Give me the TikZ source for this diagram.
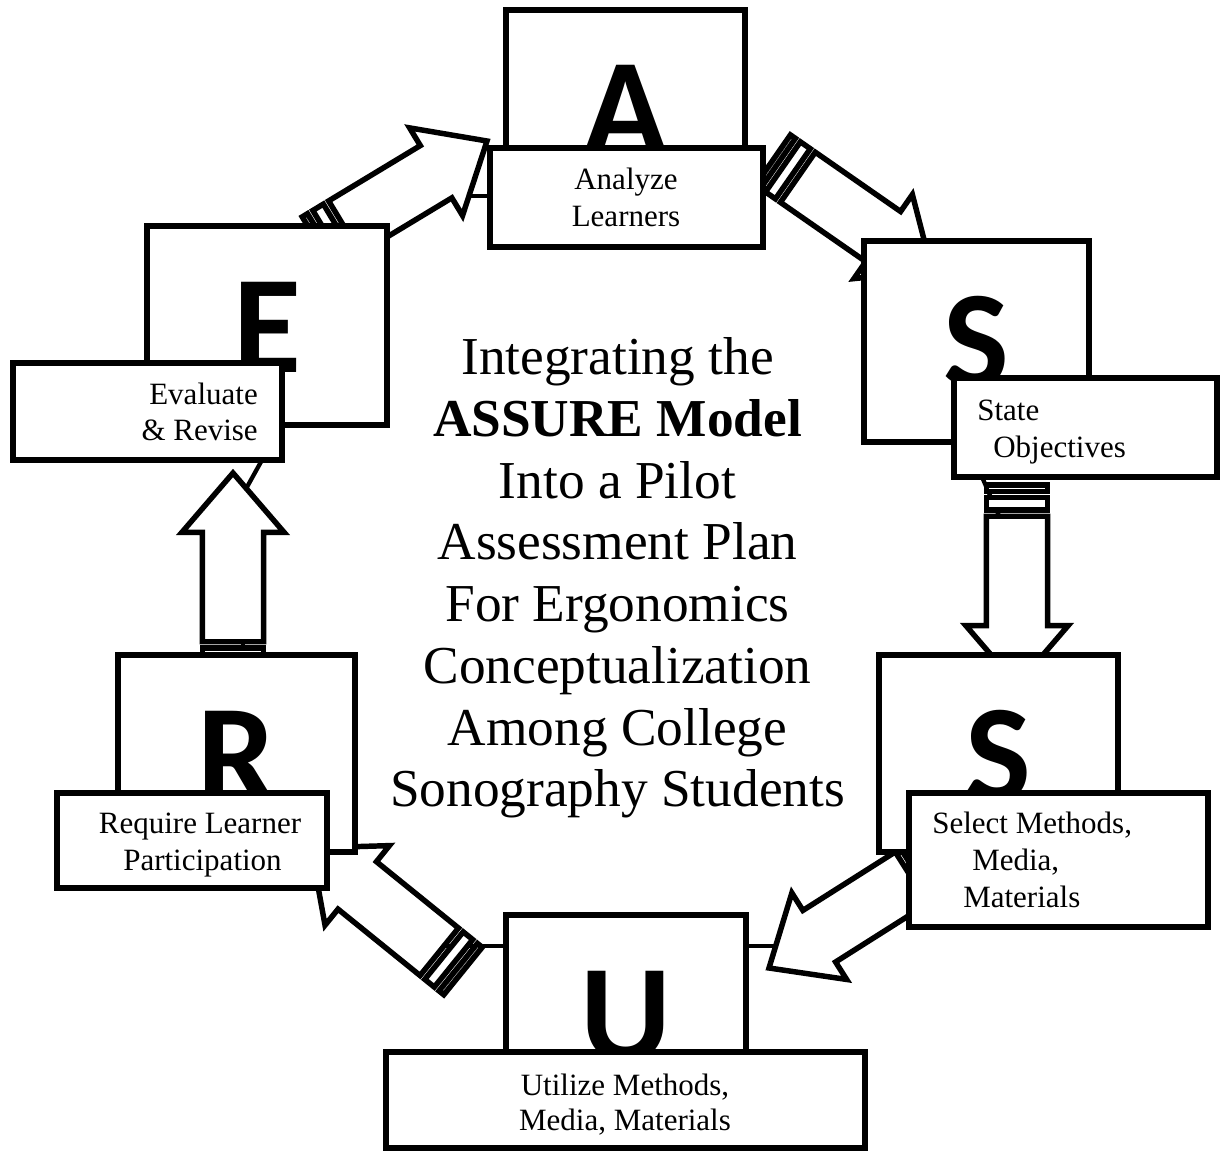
\documentclass[tikz,border=0pt]{standalone}
\usepackage{fontspec}
\setmainfont{Liberation Serif}
\newfontfamily\letterfont{Carlito}
\usetikzlibrary{calc,fit}
\tikzset{
  arrowline/.style={draw=black, line width=4.1pt, fill=white, line join=miter},
  conn/.style={draw=black, line width=3.2pt},
  bigbox/.style={draw=black, line width=4.1pt, fill=white, inner sep=0pt, outer sep=0pt},
  labbox/.style={draw=black, line width=4.1pt, fill=white, inner sep=0pt, outer sep=0pt},
  letter/.style={font=\letterfont\bfseries\fontsize{104.4pt}{104.4pt}\selectfont, inner sep=0pt, anchor=base},
  labtext/.style={font=\fontsize{23.25pt}{27.75pt}\selectfont, inner sep=0pt},
  titletext/.style={font=\fontsize{40pt}{46.3pt}\selectfont, align=center, inner sep=0pt}
}
% striped block arrow from tail #1 to tip #2
\newcommand\stripedarrow[2]{%
 \draw[arrowline] ($(#1)!22.9pt!90:(#2)$) -- ($(#1)!22.9pt!-90:(#2)$) -- ($(#1)!0.03125!(#2)!22.9pt!-90:(#2)$) -- ($(#1)!0.03125!(#2)!22.9pt!90:(#2)$) -- cycle;
 \draw[arrowline] ($(#1)!0.0625!(#2)!22.9pt!90:(#2)$) -- ($(#1)!0.0625!(#2)!22.9pt!-90:(#2)$) -- ($(#1)!0.125!(#2)!22.9pt!-90:(#2)$) -- ($(#1)!0.125!(#2)!22.9pt!90:(#2)$) -- cycle;
 \draw[arrowline] ($(#1)!0.15625!(#2)!22.9pt!90:(#2)$) -- ($(#2)!44.6pt!(#1)!22.9pt!-90:(#1)$) -- ($(#2)!44.6pt!(#1)!38.4pt!-90:(#1)$) -- (#2) -- ($(#2)!44.6pt!(#1)!38.4pt!90:(#1)$) -- ($(#2)!44.6pt!(#1)!22.9pt!90:(#1)$) -- ($(#1)!0.15625!(#2)!22.9pt!-90:(#2)$) -- cycle;
}
\begin{document}
\begin{tikzpicture}[x=0.75pt, y=-0.75pt]
\useasboundingbox (0,0) rectangle (1221,1152);
\fill[white] (0,0) rectangle (1221,1152);

% arrow end points
\coordinate (eaT) at (318,243);  \coordinate (eaH) at (487,141);
\coordinate (asT) at (773,160);  \coordinate (asH) at (932,270.5);
\coordinate (ssT) at (1017,485); \coordinate (ssH) at (1017,685);
\coordinate (suT) at (938,861);  \coordinate (suH) at (769,968);
\coordinate (urT) at (463,971);  \coordinate (urH) at (311,848);
\coordinate (reT) at (233,673);  \coordinate (reH) at (233,473);

% connector stubs (behind arrows)
\coordinate (a1) at (490,196);  \coordinate (a2) at (445,196);
\coordinate (u1) at (506,946);  \coordinate (u2) at (430,946);
\coordinate (u3) at (746,946);  \coordinate (u4) at (800,946);
\coordinate (e1) at (262,460);  \coordinate (e2) at (237,505);
\coordinate (s1) at (982,477);  \coordinate (s2) at (1003,525);
\coordinate (r1) at (243,655);  \coordinate (r2) at (243,610);
\draw[conn] (a1) -- (a2);
\draw[conn] (u1) -- (u2);
\draw[conn] (u3) -- (u4);
\draw[conn] (e1) -- (e2);
\draw[conn] (s1) -- (s2);
\draw[conn] (r1) -- (r2);

% arrows
\stripedarrow{eaT}{eaH}
\stripedarrow{asT}{asH}
\stripedarrow{ssT}{ssH}
\stripedarrow{suT}{suH}
\stripedarrow{urT}{urH}
\stripedarrow{reT}{reH}

% A
\node[bigbox, fit={(506,10) (745,200)}] (Abig) {};
\node[letter] (Alet) at (626,156) {A};
\node[labbox, fit={(490,148) (763,247)}] (Alab) {};
\node[labtext, anchor=base] (At1) at (626,190) {Analyze};
\node[labtext, anchor=base] (At2) at (626,227) {Learners};

% S (state)
\node[bigbox, fit={(864,241) (1089,442)}] (S1big) {};
\node[letter] (S1let) at (976.5,387) {S};
\node[labbox, fit={(954,378) (1217,477)}] (S1lab) {};
\node[labtext, anchor=base west] (S1t1) at (977,420) {State};
\node[labtext, anchor=base west] (S1t2) at (993,457) {Objectives};

% S (select)
\node[bigbox, fit={(879,655) (1118,852)}] (S2big) {};
\node[letter] (S2let) at (998.5,801) {S};
\node[labbox, fit={(909,793) (1208,927)}] (S2lab) {};
\node[labtext, anchor=base west] (S2t1) at (932,833) {Select Methods,};
\node[labtext, anchor=base west] (S2t2) at (972,870) {Media,};
\node[labtext, anchor=base west] (S2t3) at (963,907) {Materials};

% U
\node[bigbox, fit={(506,915) (746,1100)}] (Ubig) {};
\node[letter] (Ulet) at (626,1061) {U};
\node[labbox, fit={(386,1052) (865,1148)}] (Ulab) {};
\node[labtext, anchor=base] (Ut1) at (625,1095) {Utilize Methods,};
\node[labtext, anchor=base] (Ut2) at (625,1130) {Media, Materials};

% R
\node[bigbox, fit={(118,655) (355,852)}] (Rbig) {};
\node[letter] (Rlet) at (236.5,801) {R};
\node[labbox, fit={(57,793) (327,888)}] (Rlab) {};
\node[labtext, anchor=base] (Rt1) at (200,833) {Require Learner};
\node[labtext, anchor=base] (Rt2) at (202.5,870) {Participation};

% E
\node[bigbox, fit={(147,226) (387,425)}] (Ebig) {};
\node[letter] (Elet) at (267,372) {E};
\node[labbox, fit={(13,363) (282,460)}] (Elab) {};
\node[labtext, anchor=base east] (Et1) at (258,404) {Evaluate};
\node[labtext, anchor=base east] (Et2) at (258,440) {\& Revise};

% title
\node[titletext] (title) at (617.5,578) {Integrating the\\\textbf{ASSURE Model}\\Into a Pilot\\Assessment Plan\\For Ergonomics\\Conceptualization\\Among College\\Sonography Students};
\end{tikzpicture}
\end{document}
